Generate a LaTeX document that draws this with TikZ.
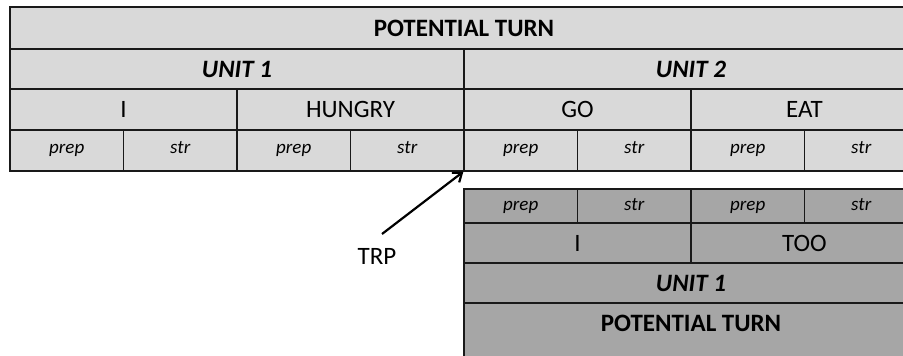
\documentclass[tikz,border=0pt]{standalone}
\usepackage{fontspec}
\setmainfont{Carlito}
\usetikzlibrary{arrows.meta}
\definecolor{lightcell}{HTML}{D9D9D9}
\definecolor{darkcell}{HTML}{A6A6A6}
\tikzset{
  cellbase/.style={draw=black!90, line width=1.3pt, rectangle, inner sep=0pt, anchor=center},
  topcell/.style={cellbase, fill=lightcell},
  lowcell/.style={cellbase, fill=darkcell},
  big/.style={font=\fontsize{25}{29}\selectfont, text height=16pt, text depth=0pt},
  bigbold/.style={font=\fontsize{25}{29}\selectfont\bfseries, text height=16pt, text depth=0pt},
  bigbi/.style={font=\fontsize{25}{29}\selectfont\bfseries\itshape, text height=16pt, text depth=0pt},
  small/.style={font=\fontsize{19}{23}\selectfont\itshape, text height=8pt, text depth=3pt},
  smalllow/.style={font=\fontsize{19}{23}\selectfont\itshape, text height=9pt, text depth=-2pt},
  trparrow/.style={line width=2.2pt, -{Straight Barb[length=8pt,width=12pt,line width=2.2pt]}}
}
\begin{document}
\begin{tikzpicture}[x=1pt,y=-1pt]
\clip (0,0) rectangle (903,356);
\fill[white] (0,0) rectangle (903,356);
% ---------- top table ----------
\node[topcell, bigbold, minimum width=908pt, minimum height=42pt] (pt1) at (464,28) {POTENTIAL TURN};
\node[topcell, bigbi, minimum width=454pt, minimum height=40pt] (u1) at (237,69) {UNIT 1};
\node[topcell, bigbi, minimum width=454pt, minimum height=40pt] (u2) at (691,69) {UNIT 2};
\node[topcell, big, minimum width=227pt, minimum height=41pt] (wI) at (123.5,109.5) {I};
\node[topcell, big, minimum width=227pt, minimum height=41pt] (wHungry) at (350.5,109.5) {HUNGRY};
\node[topcell, big, minimum width=227pt, minimum height=41pt] (wGo) at (577.5,109.5) {GO};
\node[topcell, big, minimum width=227pt, minimum height=41pt] (wEat) at (804.5,109.5) {EAT};
\node[topcell, small, minimum width=113.5pt, minimum height=41pt] (a1) at (66.75,150.5) {prep};
\node[topcell, small, minimum width=113.5pt, minimum height=41pt] (a2) at (180.25,150.5) {str};
\node[topcell, small, minimum width=113.5pt, minimum height=41pt] (a3) at (293.75,150.5) {prep};
\node[topcell, small, minimum width=113.5pt, minimum height=41pt] (a4) at (407.25,150.5) {str};
\node[topcell, small, minimum width=113.5pt, minimum height=41pt] (a5) at (520.75,150.5) {prep};
\node[topcell, small, minimum width=113.5pt, minimum height=41pt] (a6) at (634.25,150.5) {str};
\node[topcell, small, minimum width=113.5pt, minimum height=41pt] (a7) at (747.75,150.5) {prep};
\node[topcell, small, minimum width=113.5pt, minimum height=41pt] (a8) at (861.25,150.5) {str};
% ---------- lower table ----------
\node[lowcell, smalllow, minimum width=113.5pt, minimum height=34pt] (b1) at (520.75,206) {prep};
\node[lowcell, smalllow, minimum width=113.5pt, minimum height=34pt] (b2) at (634.25,206) {str};
\node[lowcell, smalllow, minimum width=113.5pt, minimum height=34pt] (b3) at (747.75,206) {prep};
\node[lowcell, smalllow, minimum width=113.5pt, minimum height=34pt] (b4) at (861.25,206) {str};
\node[lowcell, big, minimum width=227pt, minimum height=40pt] (lI) at (577.5,243) {I};
\node[lowcell, big, minimum width=227pt, minimum height=40pt] (lToo) at (804.5,243) {TOO};
\node[lowcell, bigbi, minimum width=454pt, minimum height=40pt] (lu1) at (691,283) {UNIT 1};
\node[lowcell, minimum width=454pt, minimum height=70pt] (lpt) at (691,338) {};
\node[bigbold, inner sep=0pt] (lptText) at (691,323) {POTENTIAL TURN};
% ---------- TRP arrow ----------
\node[big, inner sep=0pt] (trp) at (377,256) {TRP};
\coordinate (trpStart) at (382,234);
\draw[trparrow] (trpStart) -- (a5.south west);
\end{tikzpicture}
\end{document}
